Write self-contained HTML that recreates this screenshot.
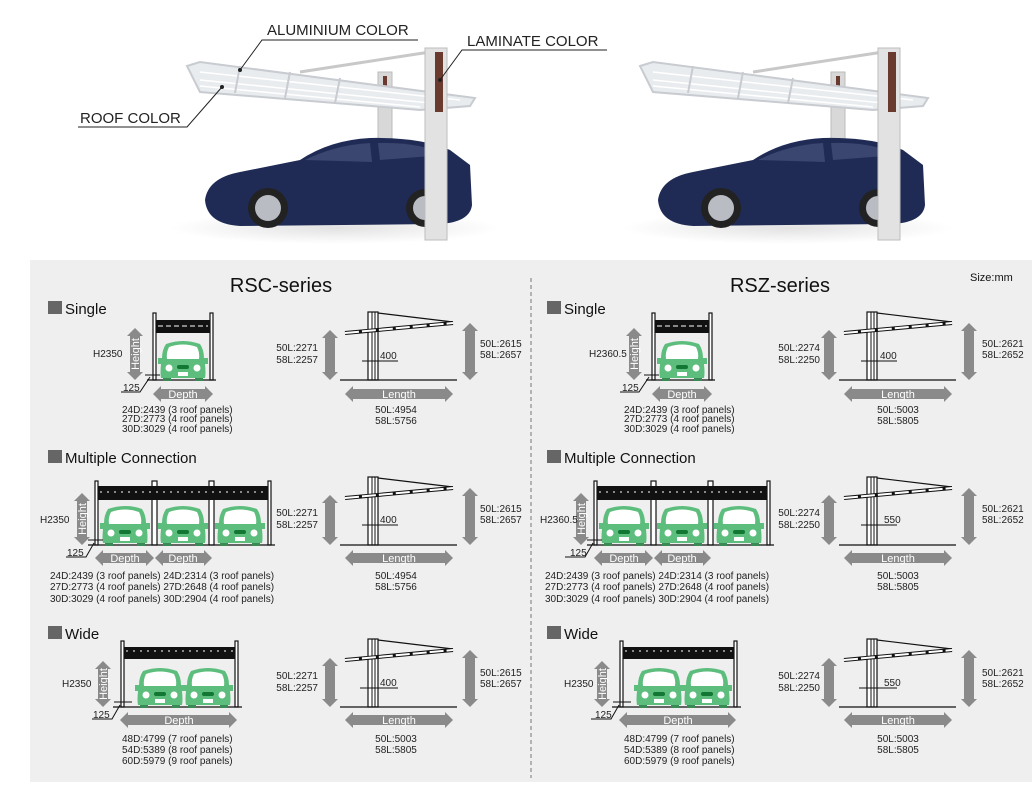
<!DOCTYPE html>
<html><head><meta charset="utf-8"><style>
html,body{margin:0;padding:0;background:#fff;}
svg{display:block;font-family:"Liberation Sans",sans-serif;}
.t{font-size:10px;fill:#222;}
.h{font-size:15px;fill:#111;}
.w{font-size:11px;fill:#fff;text-anchor:middle;}
.ar{fill:#8a8a8a;}
.post{fill:#fff;stroke:#111;stroke-width:1.2;}
</style></head><body>
<svg width="1032" height="794" viewBox="0 0 1032 794" xmlns="http://www.w3.org/2000/svg">
<defs>
 <radialGradient id="fl" cx="0.5" cy="0.5" r="0.5"><stop offset="0" stop-color="#e2e2e2"/><stop offset="1" stop-color="#fff"/></radialGradient>
 <g id="photo">
  <ellipse cx="335" cy="228" rx="165" ry="16" fill="url(#fl)"/>
  <rect x="378" y="72" width="14" height="85" fill="#d8d8d8" stroke="#bbb"/>
  <rect x="383" y="76" width="4" height="20" fill="#6b3a2e"/>
  <line x1="300" y1="72" x2="430" y2="52" stroke="#c8c8c8" stroke-width="3"/>
  <polygon points="187,66 200,62 475,98 470,106 420,110 200,92" fill="#e9ecef" stroke="#c8cbd0" stroke-width="2"/>
  <g stroke="#fff" stroke-width="1.5"><line x1="200" y1="72" x2="460" y2="100"/><line x1="200" y1="80" x2="440" y2="104"/><line x1="200" y1="86" x2="420" y2="107"/></g>
  <g stroke="#c8cbd0" stroke-width="2"><line x1="240" y1="66" x2="235" y2="93"/><line x1="290" y1="72" x2="285" y2="98"/><line x1="340" y1="78" x2="335" y2="103"/></g>
  <path d="M205,200 Q208,178 240,172 L300,160 Q330,140 370,138 Q420,137 450,150 L470,165 L472,205 Q470,222 440,224 L240,226 Q207,224 205,200 Z" fill="#1f2b55"/>
  <path d="M305,160 Q335,145 370,143 L372,162 Z" fill="#3a4670"/>
  <path d="M378,143 Q420,142 445,155 L380,160 Z" fill="#3a4670"/>
  <circle cx="268" cy="208" r="20" fill="#222"/><circle cx="268" cy="208" r="13" fill="#b9bcc2"/>
  <circle cx="425" cy="208" r="19" fill="#222"/><circle cx="425" cy="208" r="12" fill="#b9bcc2"/>
  <rect x="425" y="48" width="22" height="192" fill="#e2e2e2" stroke="#bdbdbd"/>
  <rect x="435" y="52" width="8" height="60" fill="#6b3a2e"/>
 </g>
 <g id="car">
  <path d="M-17,-36 Q0,-42 17,-36 Q21,-30 21,-22 L25,-22 L25,-16 L22,-16 Q23,-6 22,-2 L-22,-2 Q-23,-6 -22,-16 L-25,-16 L-25,-22 L-21,-22 Q-21,-30 -17,-36 Z" fill="#5cbd7d"/>
  <path d="M-14,-33 Q0,-38 14,-33 Q17,-27 16,-21 L-16,-21 Q-17,-27 -14,-33 Z" fill="#fff"/>
  <circle cx="-14" cy="-12" r="3.5" fill="#fff"/><circle cx="14" cy="-12" r="3.5" fill="#fff"/>
  <rect x="-6" y="-15" width="12" height="4" rx="2" fill="#173"/>
  <rect x="-5" y="-8" width="10" height="4" fill="#fff"/>
  <rect x="-20" y="-2" width="8" height="3" fill="#3a8a55"/><rect x="12" y="-2" width="8" height="3" fill="#3a8a55"/>
 </g>
 <g id="side">
  <rect x="368" y="0" width="10" height="68" class="post"/>
  <line x1="372" y1="0" x2="372" y2="68" stroke="#111"/>
  <line x1="375" y1="0" x2="375" y2="68" stroke="#111"/>
  <line x1="378" y1="1" x2="453" y2="10" stroke="#111" stroke-width="1.2"/>
  <line x1="345" y1="21" x2="453" y2="11" stroke="#111" stroke-width="4"/>
  <line x1="345" y1="21" x2="453" y2="11" stroke="#fff" stroke-width="2" stroke-dasharray="14,3"/>
  <line x1="340" y1="68" x2="457" y2="68" stroke="#111" stroke-width="1.2"/>
 </g>
</defs>

<use href="#photo"/>
<use href="#photo" transform="translate(453,0)"/>
<g stroke="#222" stroke-width="1" fill="none">
 <polyline points="418,40 262,40 240,70"/>
 <polyline points="607,50 462,50 440,80"/>
 <polyline points="78,127 187,127 222,87"/>
</g>
<circle cx="240" cy="70" r="2" fill="#222"/><circle cx="440" cy="80" r="2" fill="#222"/><circle cx="222" cy="87" r="2" fill="#222"/>
<text x="267" y="35" font-size="15" fill="#222">ALUMINIUM COLOR</text>
<text x="467" y="46" font-size="15" fill="#222">LAMINATE COLOR</text>
<text x="80" y="123" font-size="15" fill="#222">ROOF COLOR</text>

<rect x="30" y="260" width="1002" height="522" fill="#efefef"/>
<line x1="531" y1="278" x2="531" y2="778" stroke="#777" stroke-dasharray="4,3"/>
<text x="281" y="292" font-size="20" text-anchor="middle" fill="#111">RSC-series</text>
<text x="780" y="292" font-size="20" text-anchor="middle" fill="#111">RSZ-series</text>
<text x="970" y="281" font-size="11" fill="#111">Size:mm</text>

<g id="shapes">
 <rect x="48" y="301" width="14" height="13" fill="#666"/>
 <rect x="48" y="450" width="14" height="13" fill="#666"/>
 <rect x="48" y="626" width="14" height="13" fill="#666"/>
 <rect x="153" y="313" width="3" height="67" class="post"/><rect x="210" y="313" width="3" height="67" class="post"/>
 <rect x="156" y="320" width="54" height="13" fill="#111"/>
 <line x1="158" y1="326" x2="208" y2="326" stroke="#fff" stroke-dasharray="5,3"/>
 <line x1="147" y1="380" x2="216" y2="380" stroke="#111" stroke-width="1.2"/>
 <use href="#car" transform="translate(183,380)"/>
 <path d="M135,328 l8,8 h-3 v36 h3 l-8,8 l-8,-8 h3 v-36 h-3 z" class="ar"/>
 <path d="M153,394 l8,-8 v3 h44 v-3 l8,8 l-8,8 v-3 h-44 v3 z" class="ar"/>
 <line x1="145" y1="375" x2="160" y2="375" stroke="#111"/>
 <polyline points="121,392 140,392 150,377" fill="none" stroke="#111"/>
 <use href="#side" transform="translate(0,312)"/>
 <path d="M330,330 l8,8 h-3 v34 h3 l-8,8 l-8,-8 h3 v-34 h-3 z" class="ar"/>
 <path d="M470,323 l8,8 h-3 v41 h3 l-8,8 l-8,-8 h3 v-41 h-3 z" class="ar"/>
 <path d="M345,394 l8,-8 v3 h92 v-3 l8,8 l-8,8 v-3 h-92 v3 z" class="ar"/>
 <line x1="362" y1="361" x2="398" y2="361" stroke="#111"/>
 <rect x="95" y="481" width="3" height="64" class="post"/><rect x="152" y="481" width="5" height="64" class="post"/><rect x="209" y="481" width="5" height="64" class="post"/><rect x="268" y="481" width="3" height="64" class="post"/>
 <rect x="98" y="486" width="170" height="14" fill="#111"/>
 <line x1="100" y1="492" x2="266" y2="492" stroke="#fff" stroke-dasharray="2,5"/>
 <line x1="88" y1="545" x2="275" y2="545" stroke="#111" stroke-width="1.2"/>
 <use href="#car" transform="translate(125,545)"/><use href="#car" transform="translate(183,545)"/><use href="#car" transform="translate(240,545)"/>
 <path d="M82,493 l8,8 h-3 v36 h3 l-8,8 l-8,-8 h3 v-36 h-3 z" class="ar"/>
 <path d="M95,558 l8,-8 v3 h43 v-3 l8,8 l-8,8 v-3 h-43 v3 z" class="ar"/>
 <path d="M155,558 l8,-8 v3 h41 v-3 l8,8 l-8,8 v-3 h-41 v3 z" class="ar"/>
 <line x1="88" y1="540" x2="103" y2="540" stroke="#111"/>
 <polyline points="66,557 86,557 94,543" fill="none" stroke="#111"/>
 <use href="#side" transform="translate(0,477)"/>
 <path d="M330,495 l8,8 h-3 v34 h3 l-8,8 l-8,-8 h3 v-34 h-3 z" class="ar"/>
 <path d="M470,488 l8,8 h-3 v41 h3 l-8,8 l-8,-8 h3 v-41 h-3 z" class="ar"/>
 <path d="M345,558 l8,-8 v3 h92 v-3 l8,8 l-8,8 v-3 h-92 v3 z" class="ar"/>
 <line x1="362" y1="525" x2="398" y2="525" stroke="#111"/>
 <rect x="121" y="641" width="3" height="66" class="post"/><rect x="235" y="641" width="3" height="66" class="post"/>
 <rect x="124" y="647" width="111" height="12" fill="#111"/>
 <line x1="126" y1="651" x2="233" y2="651" stroke="#fff" stroke-dasharray="2,5"/>
 <line x1="113" y1="707" x2="242" y2="707" stroke="#111" stroke-width="1.2"/>
 <use href="#car" transform="translate(160,707)"/><use href="#car" transform="translate(208,707)"/>
 <path d="M103,661 l8,8 h-3 v30 h3 l-8,8 l-8,-8 h3 v-30 h-3 z" class="ar"/>
 <path d="M120,720 l8,-8 v3 h101 v-3 l8,8 l-8,8 v-3 h-101 v3 z" class="ar"/>
 <line x1="114" y1="702" x2="132" y2="702" stroke="#111"/>
 <polyline points="92,719 112,719 120,705" fill="none" stroke="#111"/>
 <use href="#side" transform="translate(0,639)"/>
 <path d="M330,658 l8,8 h-3 v33 h3 l-8,8 l-8,-8 h3 v-33 h-3 z" class="ar"/>
 <path d="M470,650 l8,8 h-3 v41 h3 l-8,8 l-8,-8 h3 v-41 h-3 z" class="ar"/>
 <path d="M345,720 l8,-8 v3 h92 v-3 l8,8 l-8,8 v-3 h-92 v3 z" class="ar"/>
 <line x1="360" y1="688" x2="398" y2="688" stroke="#111"/>
</g>
<use href="#shapes" transform="translate(499,0)"/>

<g>
<text x="65" y="314" class="h">Single</text>
<text x="65" y="463" class="h">Multiple Connection</text>
<text x="65" y="639" class="h">Wide</text>
<text class="w" transform="translate(139,354) rotate(-90)">Height</text>
<text class="w" transform="translate(86,519) rotate(-90)">Height</text>
<text class="w" transform="translate(107,684) rotate(-90)">Height</text>
<text x="183" y="398" class="w">Depth</text>
<text x="125" y="562" class="w">Depth</text><text x="183" y="562" class="w">Depth</text>
<text x="179" y="724" class="w">Depth</text>
<text x="399" y="398" class="w">Length</text><text x="399" y="562" class="w">Length</text><text x="399" y="724" class="w">Length</text>
<text x="93" y="357" class="t">H2350</text>
<text x="40" y="523" class="t">H2350</text>
<text x="62" y="687" class="t">H2350</text>
<text x="123" y="391" class="t">125</text><text x="67" y="556" class="t">125</text><text x="93" y="718" class="t">125</text>
<text x="122" y="413" class="t">24D:2439 (3 roof panels)</text>
<text x="122" y="422" class="t">27D:2773 (4 roof panels)</text>
<text x="122" y="432" class="t">30D:3029 (4 roof panels)</text>
<text x="50" y="579" class="t">24D:2439 (3 roof panels)  24D:2314 (3 roof panels)</text>
<text x="50" y="590" class="t">27D:2773 (4 roof panels)  27D:2648 (4 roof panels)</text>
<text x="50" y="602" class="t">30D:3029 (4 roof panels)  30D:2904 (4 roof panels)</text>
<text x="122" y="742" class="t">48D:4799 (7 roof panels)</text>
<text x="122" y="753" class="t">54D:5389 (8 roof panels)</text>
<text x="122" y="764" class="t">60D:5979 (9 roof panels)</text>
<g text-anchor="end">
<text x="318" y="351" class="t">50L:2271</text><text x="318" y="363" class="t">58L:2257</text>
<text x="318" y="516" class="t">50L:2271</text><text x="318" y="528" class="t">58L:2257</text>
<text x="318" y="679" class="t">50L:2271</text><text x="318" y="691" class="t">58L:2257</text>
</g>
<text x="480" y="347" class="t">50L:2615</text><text x="480" y="358" class="t">58L:2657</text>
<text x="480" y="512" class="t">50L:2615</text><text x="480" y="523" class="t">58L:2657</text>
<text x="480" y="676" class="t">50L:2615</text><text x="480" y="687" class="t">58L:2657</text>
<text x="380" y="359" class="t">400</text><text x="380" y="523" class="t">400</text><text x="380" y="686" class="t">400</text>
<g text-anchor="middle">
<text x="396" y="413" class="t">50L:4954</text><text x="396" y="424" class="t">58L:5756</text>
<text x="396" y="579" class="t">50L:4954</text><text x="396" y="590" class="t">58L:5756</text>
<text x="396" y="742" class="t">50L:5003</text><text x="396" y="753" class="t">58L:5805</text>
</g>
</g>

<g>
<text x="564" y="314" class="h">Single</text>
<text x="564" y="463" class="h">Multiple Connection</text>
<text x="564" y="639" class="h">Wide</text>
<text class="w" transform="translate(638,354) rotate(-90)">Height</text>
<text class="w" transform="translate(585,519) rotate(-90)">Height</text>
<text class="w" transform="translate(606,684) rotate(-90)">Height</text>
<text x="682" y="398" class="w">Depth</text>
<text x="624" y="562" class="w">Depth</text><text x="682" y="562" class="w">Depth</text>
<text x="678" y="724" class="w">Depth</text>
<text x="898" y="398" class="w">Length</text><text x="898" y="562" class="w">Length</text><text x="898" y="724" class="w">Length</text>
<text x="589" y="357" class="t">H2360.5</text>
<text x="540" y="523" class="t" font-size="9">H2360.5</text>
<text x="564" y="687" class="t">H2350</text>
<text x="622" y="391" class="t">125</text><text x="570" y="556" class="t">125</text><text x="595" y="718" class="t">125</text>
<text x="624" y="413" class="t">24D:2439 (3 roof panels)</text>
<text x="624" y="422" class="t">27D:2773 (4 roof panels)</text>
<text x="624" y="432" class="t">30D:3029 (4 roof panels)</text>
<text x="545" y="579" class="t">24D:2439 (3 roof panels) 24D:2314 (3 roof panels)</text>
<text x="545" y="590" class="t">27D:2773 (4 roof panels) 27D:2648 (4 roof panels)</text>
<text x="545" y="602" class="t">30D:3029 (4 roof panels) 30D:2904 (4 roof panels)</text>
<text x="624" y="742" class="t">48D:4799 (7 roof panels)</text>
<text x="624" y="753" class="t">54D:5389 (8 roof panels)</text>
<text x="624" y="764" class="t">60D:5979 (9 roof panels)</text>
<g text-anchor="end">
<text x="820" y="351" class="t">50L:2274</text><text x="820" y="363" class="t">58L:2250</text>
<text x="820" y="516" class="t">50L:2274</text><text x="820" y="528" class="t">58L:2250</text>
<text x="820" y="679" class="t">50L:2274</text><text x="820" y="691" class="t">58L:2250</text>
</g>
<text x="982" y="347" class="t">50L:2621</text><text x="982" y="358" class="t">58L:2652</text>
<text x="982" y="512" class="t">50L:2621</text><text x="982" y="523" class="t">58L:2652</text>
<text x="982" y="676" class="t">50L:2621</text><text x="982" y="687" class="t">58L:2652</text>
<text x="880" y="359" class="t">400</text><text x="884" y="523" class="t">550</text><text x="884" y="686" class="t">550</text>
<g text-anchor="middle">
<text x="898" y="413" class="t">50L:5003</text><text x="898" y="424" class="t">58L:5805</text>
<text x="898" y="579" class="t">50L:5003</text><text x="898" y="590" class="t">58L:5805</text>
<text x="898" y="742" class="t">50L:5003</text><text x="898" y="753" class="t">58L:5805</text>
</g>
</g>
</svg>
</body></html>
